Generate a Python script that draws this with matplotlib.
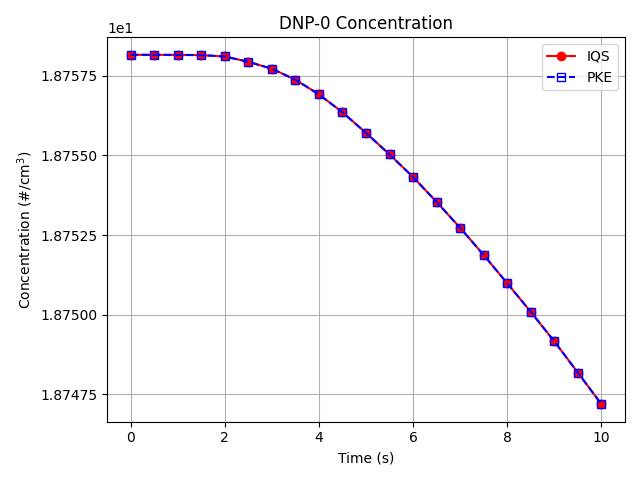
import numpy as np
import matplotlib
matplotlib.use("Agg")
import matplotlib.pyplot as plt
from matplotlib.ticker import MultipleLocator

# time points (s)
time = [0.0, 0.5, 1.0, 1.5, 2.0, 2.5, 3.0, 3.5, 4.0, 4.5, 5.0,
        5.5, 6.0, 6.5, 7.0, 7.5, 8.0, 8.5, 9.0, 9.5, 10.0]

# DNP-0 concentration (#/cm^3)
iqs = [18.758153, 18.758152, 18.758150, 18.758143, 18.758100, 18.757934,
       18.757716, 18.757372, 18.756912, 18.756350, 18.755703, 18.755028,
       18.754319, 18.753537, 18.752725, 18.751872, 18.750984, 18.750091,
       18.749162, 18.748184, 18.747194]
pke = list(iqs)

fig, ax = plt.subplots(figsize=(6.4, 4.8), dpi=100)
ax.plot(time, iqs, "r-o", label="IQS")
ax.plot(time, pke, "b--s", markerfacecolor="none", label="PKE")

ax.set_title("DNP-0 Concentration")
ax.set_xlabel("Time (s)")
ax.set_ylabel("Concentration (#/cm$^3$)")
ax.yaxis.set_major_locator(MultipleLocator(0.0025))
ax.ticklabel_format(axis="y", style="sci", scilimits=(0, 0), useOffset=False)
ax.grid(True)
ax.legend(loc="upper right")

fig.tight_layout()
fig.savefig("out.png", dpi=100)
